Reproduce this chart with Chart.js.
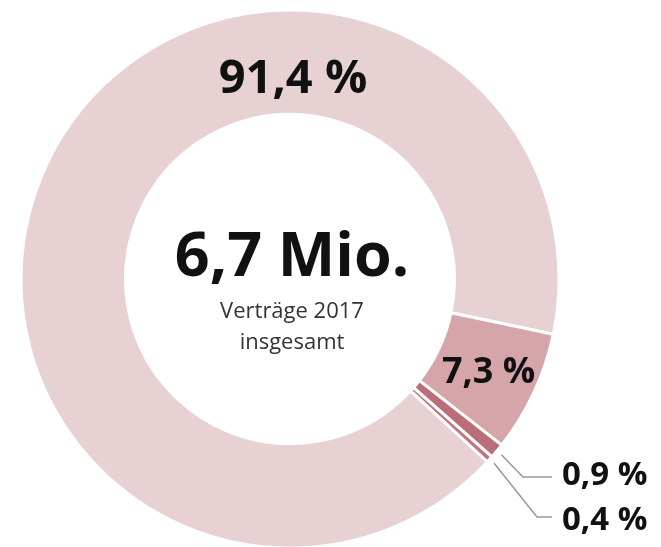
<!DOCTYPE html>
<html>
<head>
<meta charset="utf-8">
<script src="https://cdn.jsdelivr.net/npm/chart.js@4"></script>
<style>
  html, body { margin: 0; padding: 0; background: #fff; }
  #wrap { width: 661px; height: 547px; position: relative; }
</style>
</head>
<body>
<div id="wrap"><canvas id="myChart" width="661" height="547"></canvas></div>
<script>
// data
const categories = ['91,4 %', '7,3 %', '0,9 %', '0,4 %'];
const shares = [91.4, 7.3, 0.9, 0.4];
const sliceColors = ['#e7d1d2', '#d5a5a9', '#bb6e79', '#bf7480'];
const centerValue = '6,7 Mio.';
const centerLines = ['Verträge 2017', 'insgesamt'];

const FONT = '"Open Sans", "Noto Sans", sans-serif';

// draws the percent labels, leader lines and the text in the hole
const labelPlugin = {
    id: 'donutLabels',
    afterDatasetsDraw(chart) {
        const ctx = chart.ctx;
        const arcs = chart.getDatasetMeta(0).data;
        const cx = arcs[0].x;
        const cy = arcs[0].y;
        const outer = arcs[0].outerRadius;

        ctx.save();
        ctx.fillStyle = '#111';
        ctx.textAlign = 'center';
        ctx.textBaseline = 'middle';

        // hole text
        ctx.font = 'bold 61px ' + FONT;
        ctx.fillText(centerValue, cx + 2, cy - 20);
        ctx.fillStyle = '#333';
        ctx.font = '22px ' + FONT;
        ctx.fillText(centerLines[0], cx + 2, cy + 33);
        ctx.fillText(centerLines[1], cx + 2, cy + 64);

        // big slice label at the top of the ring
        ctx.fillStyle = '#111';
        ctx.font = 'bold 47px ' + FONT;
        ctx.fillText(categories[0], cx + 3, cy - 199);

        // second slice label inside its arc
        const p1 = arcs[1].tooltipPosition();
        ctx.font = 'bold 36px ' + FONT;
        ctx.fillText(categories[1], p1.x + 2, p1.y + 2);

        // small slices: leader lines out to the right
        const rowY = [cy + 198, cy + 238];
        const elbowX = [cx + 233, cx + 247];
        const textY = [cy + 197, cy + 242];
        ctx.font = 'bold 33px ' + FONT;
        ctx.textAlign = 'left';
        for (let i = 2; i < arcs.length; i++) {
            const a = arcs[i];
            const mid = (a.startAngle + a.endAngle) / 2;
            const sx = cx + Math.cos(mid) * (outer + 6);
            const sy = cy + Math.sin(mid) * (outer + 6);
            ctx.strokeStyle = '#9a9a9a';
            ctx.lineWidth = 1.5;
            ctx.beginPath();
            ctx.moveTo(sx, sy);
            ctx.lineTo(elbowX[i - 2], rowY[i - 2]);
            ctx.lineTo(cx + 262, rowY[i - 2]);
            ctx.stroke();
            ctx.fillText(categories[i], cx + 272, textY[i - 2]);
        }
        ctx.restore();
    }
};

const ctx = document.getElementById('myChart').getContext('2d');
new Chart(ctx, {
    type: 'doughnut',
    data: {
        labels: categories,
        datasets: [{
            data: shares,
            backgroundColor: sliceColors,
            borderColor: '#ffffff',
            borderWidth: 3,
            hoverOffset: 0,
            radius: 269,
            cutout: 163,
            rotation: 132.8
        }]
    },
    options: {
        responsive: false,
        animation: false,
        layout: { padding: { left: 0, right: 81, top: 11, bottom: 0 } },
        plugins: {
            legend: { display: false },
            tooltip: { enabled: false }
        }
    },
    plugins: [labelPlugin]
});
</script>
</body>
</html>
